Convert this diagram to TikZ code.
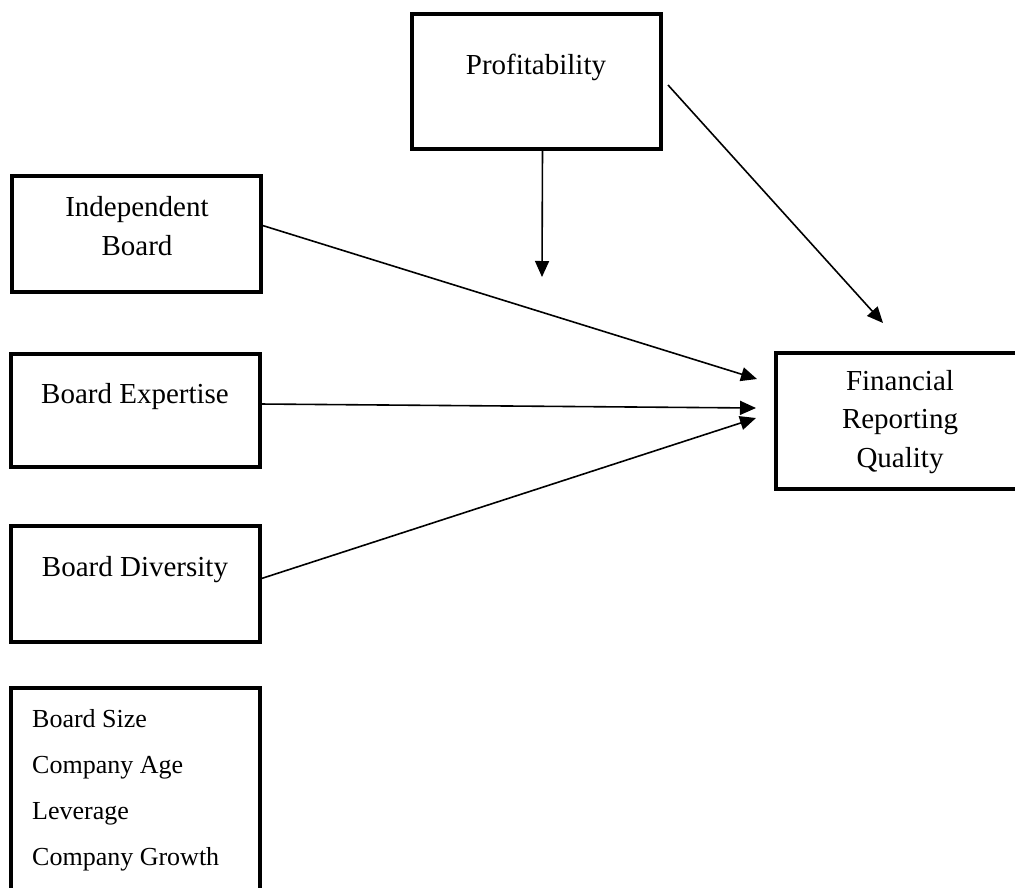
\documentclass[tikz,border=0pt]{standalone}
\usepackage{fontspec}
\setmainfont{Liberation Serif}
\usetikzlibrary{arrows.meta,calc}
\tikzset{
  box/.style={draw=black, line width=4.6pt, outer sep=0pt, inner sep=0pt, anchor=north west, minimum width=249pt},
  lbl/.style={inner sep=0pt, align=center, font=\fontsize{29}{38.5}\selectfont},
  ctl/.style={inner sep=0pt, anchor=base west, font=\fontsize{26}{30}\selectfont},
  conn/.style={draw=black, line width=1.6pt, -{Triangle[length=16pt,width=14pt]}}
}
\begin{document}
\begin{tikzpicture}[x=1pt,y=-1pt]
\fill[white] (0,0) rectangle (1015,887);
\useasboundingbox (0,0) rectangle (1015,887);
% boxes
\node[box, minimum height=135pt] (prof) at (412,14) {};
\node[box, minimum height=116pt] (ib) at (12,176) {};
\node[box, minimum height=113pt] (be) at (11,354) {};
\node[box, minimum height=116pt] (bd) at (11,526) {};
\node[box, minimum height=230pt] (ctrl) at (11,688) {};
\node[box, minimum height=136pt] (frq) at (776,353) {};
% labels
\node[lbl] (tprof) at (536,67) {Profitability};
\node[lbl] (tib) at (137,226) {Independent\\Board};
\node[lbl] (tbe) at (135,397) {Board Expertise};
\node[lbl] (tbd) at (135,570) {Board Diversity};
\node[lbl] (tfrq) at (900,422) {Financial\\Reporting\\Quality};
\node[ctl] (c1) at (32,727) {Board Size};
\node[ctl] (c2) at (32,773) {Company Age};
\node[ctl] (c3) at (32,819) {Leverage};
\node[ctl] (c4) at (32,865) {Company Growth};
% free ends
\coordinate (tipP) at (542,277);
\coordinate (tipF) at (883,323);
\coordinate (t1) at (757,379);
\coordinate (t2) at (756,408);
\coordinate (t3) at (756,418);
% connectors
\draw[conn] ([xshift=6pt]prof.south) -- (tipP);
\draw[conn] ($(prof.east)+(7,3.5)$) -- (tipF);
\draw[conn] ($(ib.east)+(0,-9)$) -- (t1);
\draw[conn] ($(be.east)+(0,-6.5)$) -- (t2);
\draw[conn] ($(bd.east)+(0,-5)$) -- (t3);
\end{tikzpicture}
\end{document}
